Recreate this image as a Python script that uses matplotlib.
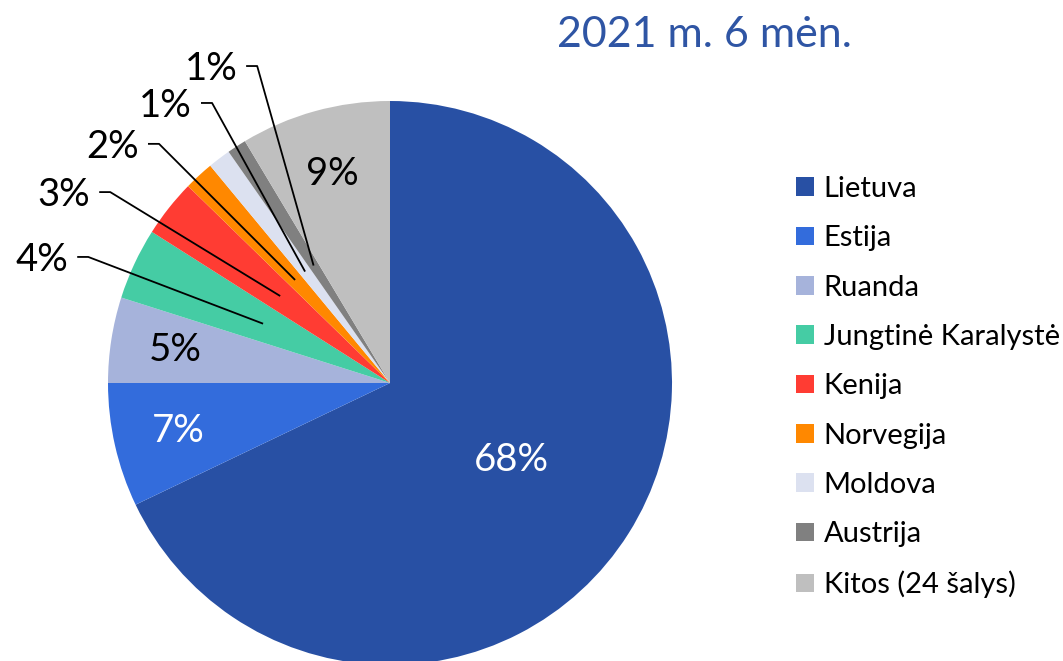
import matplotlib.pyplot as plt
import numpy as np

plt.rcParams['font.family'] = ['Lato', 'DejaVu Sans']

countries = ['Lietuva', 'Estija', 'Ruanda', 'Jungtinė Karalystė', 'Kenija',
             'Norvegija', 'Moldova', 'Austrija', 'Kitos (24 šalys)']
shares = [67.9, 7.1, 4.9, 4.1, 3.3, 1.7, 1.3, 1.1, 8.6]
labels = ['68%', '7%', '5%', '4%', '3%', '2%', '1%', '1%', '9%']
colors = ['#2850A4', '#336CDC', '#A6B3DB', '#45CCA4', '#FF3C33',
          '#FF8800', '#DCE1F0', '#808080', '#BFBFBF']
title = '2021 m. 6 mėn.'

# which slices get leader lines, and where their text sits (elbow x, y)
outside = {3: (-1.106, 0.447), 4: (-1.028, 0.677), 5: (-0.855, 0.848),
           6: (-0.667, 0.993), 7: (-0.507, 1.124)}

fig = plt.figure(figsize=(10.63, 6.61), dpi=100)
ax = fig.add_axes([108 / 1063, -4 / 661, 564 / 1063, 564 / 661])

wedges, _ = ax.pie(shares, colors=colors, startangle=90, counterclock=False,
                   radius=1, wedgeprops=dict(linewidth=0))
ax.set_xlim(-1, 1)
ax.set_ylim(-1, 1)
ax.set_aspect('equal')
ax.axis('off')

for i, w in enumerate(wedges):
    mid = np.deg2rad((w.theta1 + w.theta2) / 2)
    dx, dy = np.cos(mid), np.sin(mid)
    if i in outside:
        ex, ey = outside[i]
        ax.plot([ex, ex + 0.036, 0.5 * dx], [ey, ey, 0.5 * dy],
                color='black', lw=1.3, clip_on=False)
        ax.text(ex - 0.035, ey - 0.01, labels[i], ha='right', va='center',
                fontsize=27.5, color='black', clip_on=False)
    else:
        r = 0.51 if i == 0 else 0.77
        c = 'white' if i < 2 else 'black'
        ax.text(r * dx, r * dy, labels[i], ha='center', va='center',
                fontsize=27.5, color=c)

fig.text(704 / 1063, 1 - 35 / 661, title, ha='center', va='center',
         fontsize=31, color='#2F55A4')

fig.legend(wedges, countries, loc='center left',
           bbox_to_anchor=(796 / 1063, 1 - 387 / 661), frameon=False,
           fontsize=21, handlelength=0.6, handleheight=0.6,
           handletextpad=0.35, labelspacing=0.8,
           borderpad=0, borderaxespad=0)

fig.savefig('out.png', dpi=100)
